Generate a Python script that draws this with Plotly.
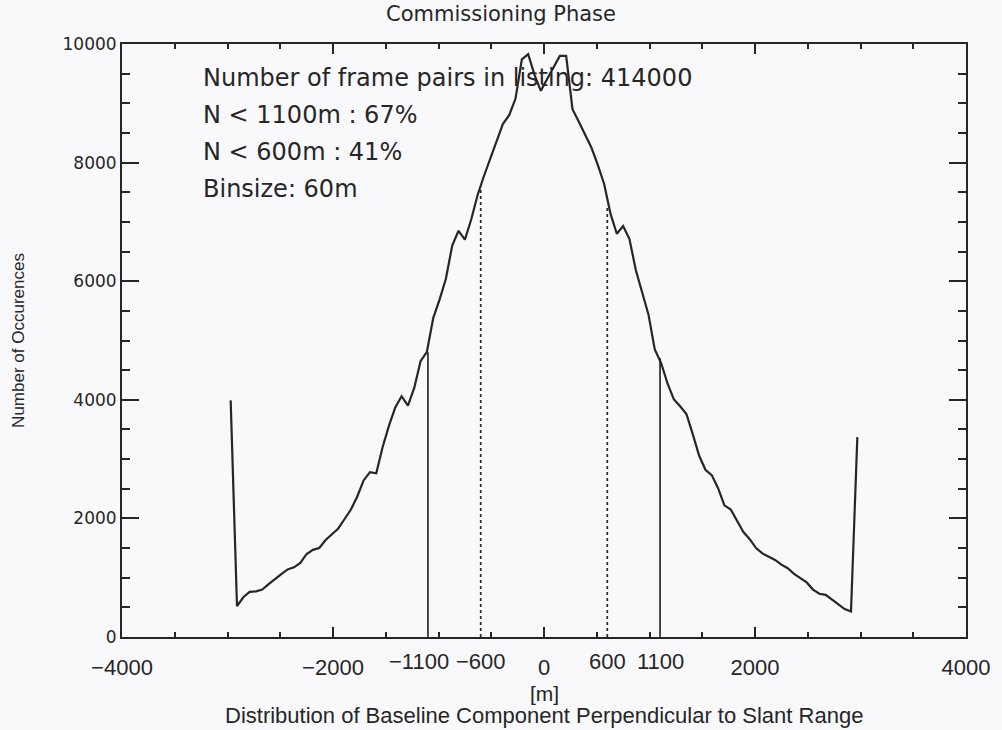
import plotly.graph_objects as go

BINSIZE = 60
bin_centers = list(range(-2970, 2971, BINSIZE))
occurrences = [
    3990, 520, 670, 760, 770, 800, 890, 980, 1060, 1140,
    1175, 1250, 1400, 1470, 1500, 1635, 1740, 1830, 1990, 2150,
    2370, 2640, 2780, 2760, 3200, 3560, 3870, 4060, 3900, 4200,
    4650, 4810, 5380, 5690, 6040, 6600, 6850, 6700, 7040, 7450,
    7770, 8070, 8380, 8650, 8800, 9080, 9740, 9830, 9480, 9210,
    9410, 9600, 9800, 9800, 8900, 8690, 8470, 8250, 7960, 7640,
    7140, 6800, 6930, 6710, 6190, 5820, 5440, 4850, 4620, 4280,
    4010, 3890, 3760, 3420, 3060, 2820, 2730, 2510, 2220, 2150,
    1970, 1770, 1650, 1500, 1410, 1360, 1300, 1220, 1160, 1065,
    990, 920, 800, 730, 710, 630, 545, 470, 430, 3370,
]

solid_x = [-1100, 1100]
solid_top = [4800, 4700]
dotted_x = [-600, 600]
dotted_top = [7600, 7250]

major_ticks = [-4000, -2000, 0, 2000, 4000]
major_labels = ["\u22124000", "\u22122000", "0", "2000", "4000"]
special_ticks = [-1100, -600, 600, 1100]
special_labels = ["\u22121100", "\u2212600", "600", "1100"]
special_shift = [-9, 0, 0, 0]

y_ticks = [0, 2000, 4000, 6000, 8000, 10000]
y_labels = ["0", "2000", "4000", "6000", "8000", "10000"]

info_lines = [
    "Number of frame pairs in listing: 414000",
    "N < 1100m : 67%",
    "N < 600m : 41%",
    "Binsize: 60m",
]

ink = "#262626"
fig = go.Figure()

fig.add_trace(go.Scatter(x=bin_centers, y=occurrences, mode="lines",
                         line=dict(color=ink, width=2.2), showlegend=False))
for xv, top in zip(solid_x, solid_top):
    fig.add_trace(go.Scatter(x=[xv, xv], y=[0, top], mode="lines",
                             line=dict(color=ink, width=1.7), showlegend=False))
for xv, top in zip(dotted_x, dotted_top):
    fig.add_trace(go.Scatter(x=[xv, xv], y=[0, top], mode="lines",
                             line=dict(color=ink, width=1.7, dash="dot"), showlegend=False))

annotations = []
for i, t in enumerate(info_lines):
    annotations.append(dict(x=0.094, y=0.942 - i * 0.062, xref="paper", yref="paper",
                            text=t, showarrow=False, xanchor="left", yanchor="middle",
                            font=dict(family="DejaVu Sans", size=24, color=ink)))
for xv, lab, sh in zip(special_ticks, special_labels, special_shift):
    annotations.append(dict(x=xv, y=0, xref="x", yref="paper", text=lab,
                            showarrow=False, xanchor="center", yanchor="top", yshift=-10,
                            xshift=sh,
                            font=dict(family="Liberation Sans", size=22, color=ink)))
annotations.append(dict(x=0.5, y=0, xref="paper", yref="paper", text="[m]",
                        showarrow=False, xanchor="center", yanchor="top", yshift=-43,
                        font=dict(family="Liberation Sans", size=21, color=ink)))
annotations.append(dict(x=0.5, y=0, xref="paper", yref="paper",
                        text="Distribution of Baseline Component Perpendicular to Slant Range",
                        showarrow=False, xanchor="center", yanchor="top", yshift=-64,
                        font=dict(family="Liberation Sans", size=22, color=ink)))

fig.update_layout(
    width=1002, height=730,
    margin=dict(l=122, r=34, t=44, b=93),
    paper_bgcolor="#f9f9fb", plot_bgcolor="#f9f9fb",
    title=dict(text="Commissioning Phase", x=0.5, xanchor="center", y=0.992, yanchor="top",
               font=dict(family="DejaVu Sans", size=21, color=ink)),
    annotations=annotations,
    xaxis=dict(range=[-4000, 4000], tickvals=major_ticks, ticktext=major_labels,
               ticks="inside", ticklen=10, ticklabelstandoff=10,
               tickwidth=1.5, tickcolor=ink, showline=True, linecolor=ink, linewidth=2,
               mirror="allticks", showgrid=False, zeroline=False,
               minor=dict(dtick=500, ticks="inside", ticklen=5, tickcolor=ink, showgrid=False),
               tickfont=dict(family="Liberation Sans", size=22, color=ink)),
    yaxis=dict(range=[0, 10000], tickvals=y_ticks, ticktext=y_labels, ticks="inside", ticklen=17,
               tickwidth=1.5, tickcolor=ink, showline=True, linecolor=ink, linewidth=2,
               mirror="allticks", showgrid=False, zeroline=False,
               minor=dict(dtick=500, ticks="inside", ticklen=8, tickcolor=ink, showgrid=False),
               tickfont=dict(family="DejaVu Sans", size=17, color=ink),
               title=dict(text="Number of Occurences", standoff=34,
                          font=dict(family="Liberation Sans", size=17, color=ink))),
)

fig.write_html("out.html")
